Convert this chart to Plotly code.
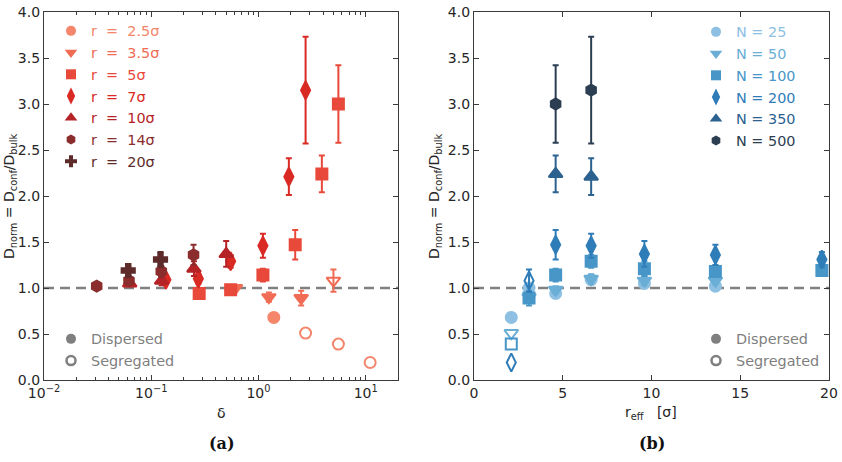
import plotly.graph_objects as go

# ---------------- data ----------------
N_values = [25, 50, 100, 200, 350, 500]
r_labels = ["2.5", "3.5", "5", "7", "10", "14", "20"]
r_eff = [2.1, 3.1, 4.6, 6.6, 9.6, 13.6, 19.6]

# per-r rows, indexed by N (None = not simulated / no visible error bar)
delta_r2_5 = [1.39, 2.75, 5.56, 11.0, None, None]
D_r2_5 = [0.68, 0.51, 0.39, 0.19, None, None]
err_r2_5 = [None, None, None, None, None, None]
seg_r2_5 = [0, 1, 1, 1, None, None]

delta_r3_5 = [0.61, 1.25, 2.5, 5.0, None, None]
D_r3_5 = [1.0, 0.9, 0.89, 1.08, None, None]
err_r3_5 = [0.03, 0.05, 0.08, 0.12, None, None]
seg_r3_5 = [0, 0, 0, 1, None, None]

delta_r5 = [0.28, 0.55, 1.1, 2.2, 3.9, 5.56]
D_r5 = [0.94, 0.98, 1.14, 1.47, 2.24, 3.0]
err_r5 = [0.03, 0.04, 0.07, 0.16, 0.2, 0.42]
seg_r5 = [0, 0, 0, 0, 0, 0]

delta_r7 = [0.137, 0.275, 0.55, 1.1, 1.92, 2.75]
D_r7 = [1.09, 1.1, 1.29, 1.46, 2.21, 3.15]
err_r7 = [0.04, 0.05, 0.07, 0.13, 0.2, 0.58]
seg_r7 = [0, 0, 0, 0, 0, 0]

delta_r10 = [0.063, 0.125, 0.25, 0.5, None, None]
D_r10 = [1.05, 1.08, 1.21, 1.37, None, None]
err_r10 = [0.03, 0.05, 0.08, 0.14, None, None]
seg_r10 = [0, 0, 0, 0, None, None]

delta_r14 = [0.031, 0.062, 0.124, 0.248, None, None]
D_r14 = [1.02, 1.08, 1.18, 1.36, None, None]
err_r14 = [0.02, 0.04, 0.06, 0.11, None, None]
seg_r14 = [0, 0, 0, 0, None, None]

delta_r20 = [None, None, 0.061, 0.122, None, None]
D_r20 = [None, None, 1.19, 1.31, None, None]
err_r20 = [None, None, 0.05, 0.08, None, None]
seg_r20 = [None, None, 0, 0, None, None]

# ---------------- styles ----------------
delta_rows = [delta_r2_5, delta_r3_5, delta_r5, delta_r7, delta_r10, delta_r14, delta_r20]
D_rows = [D_r2_5, D_r3_5, D_r5, D_r7, D_r10, D_r14, D_r20]
err_rows = [err_r2_5, err_r3_5, err_r5, err_r7, err_r10, err_r14, err_r20]
seg_rows = [seg_r2_5, seg_r3_5, seg_r5, seg_r7, seg_r10, seg_r14, seg_r20]

red_colors = ["#f4866b", "#f06c55", "#e8493a", "#d92a24", "#b52326", "#8a2d2c", "#5e2b2b"]
r_symbols = ["circle", "triangle-down", "square", "diamond-tall", "triangle-up", "hexagon", "cross"]
blue_colors = ["#8dc0e2", "#6aaed6", "#4896c8", "#2f7db8", "#2c628f", "#2c3e52"]
N_symbols = ["circle", "triangle-down", "square", "diamond-tall", "triangle-up", "hexagon"]
sym_size = {"circle": 11, "triangle-down": 12, "square": 11, "diamond-tall": 13,
            "triangle-up": 12, "hexagon": 11, "cross": 11}

FONT = "DejaVu Sans"
TXT = "#262626"
AX = "#3a3a3a"

W, H = 842, 462
ML, MR, MT, MB = 44, 13, 12, 82
PW, PH = W - ML - MR, H - MT - MB


def px(x):
    return (x - ML) / PW


def py(y):
    return 1 - (y - MT) / PH


fig = go.Figure()


def add_series(xs, ys, es, syms, c, size, xa, ya):
    # points with an error bar
    idx_e = [k for k in range(len(xs)) if es[k] is not None]
    idx_n = [k for k in range(len(xs)) if es[k] is None]
    if idx_e:
        fig.add_trace(go.Scatter(
            x=[xs[k] for k in idx_e], y=[ys[k] for k in idx_e], mode="markers",
            xaxis=xa, yaxis=ya, showlegend=False,
            marker=dict(symbol=[syms[k] for k in idx_e], size=size, color=c, line=dict(color=c, width=2)),
            error_y=dict(type="data", array=[es[k] for k in idx_e], color=c, thickness=2, width=3),
        ))
    if idx_n:
        fig.add_trace(go.Scatter(
            x=[xs[k] for k in idx_n], y=[ys[k] for k in idx_n], mode="markers",
            xaxis=xa, yaxis=ya, showlegend=False,
            marker=dict(symbol=[syms[k] for k in idx_n], size=size, color=c, line=dict(color=c, width=2)),
        ))


# panel (a): D vs delta, one series per r
for i, lab in enumerate(r_labels):
    xs, ys, es, syms = [], [], [], []
    for j in range(len(N_values)):
        if D_rows[i][j] is None:
            continue
        xs.append(delta_rows[i][j])
        ys.append(D_rows[i][j])
        es.append(err_rows[i][j])
        syms.append(r_symbols[i] + ("-open" if seg_rows[i][j] else ""))
    c = red_colors[i]
    add_series(xs, ys, es, syms, c, sym_size[r_symbols[i]], "x", "y")
    fig.add_trace(go.Scatter(
        x=[None], y=[None], mode="markers", xaxis="x", yaxis="y", legend="legend",
        name=f"<span style='color:{c}'>r  =  {lab}σ</span>",
        marker=dict(symbol=r_symbols[i], size=sym_size[r_symbols[i]] - 1, color=c),
    ))

# panel (b): D vs r_eff, one series per N
for j, n in enumerate(N_values):
    xs, ys, es, syms = [], [], [], []
    for i in range(len(r_labels)):
        if D_rows[i][j] is None:
            continue
        xs.append(r_eff[i])
        ys.append(D_rows[i][j])
        es.append(err_rows[i][j])
        syms.append(N_symbols[j] + ("-open" if seg_rows[i][j] else ""))
    c = blue_colors[j]
    add_series(xs, ys, es, syms, c, sym_size[N_symbols[j]], "x2", "y2")
    fig.add_trace(go.Scatter(
        x=[None], y=[None], mode="markers", xaxis="x2", yaxis="y2", legend="legend2",
        name=f"<span style='color:{c}'>N = {n}</span>",
        marker=dict(symbol=N_symbols[j], size=sym_size[N_symbols[j]] - 1, color=c),
    ))

# dispersed / segregated keys
for ax, lg in (("", "legend3"), ("2", "legend4")):
    fig.add_trace(go.Scatter(
        x=[None], y=[None], mode="markers", xaxis="x" + ax, yaxis="y" + ax, legend=lg,
        name="Dispersed", marker=dict(symbol="circle", size=10, color="#7f7f7f"),
    ))
    fig.add_trace(go.Scatter(
        x=[None], y=[None], mode="markers", xaxis="x" + ax, yaxis="y" + ax, legend=lg,
        name="Segregated",
        marker=dict(symbol="circle-open", size=9, color="#7f7f7f", line=dict(color="#7f7f7f", width=2.5)),
    ))

axis_common = dict(
    showline=True, linecolor=AX, linewidth=1.3, mirror="ticks",
    ticks="inside", ticklen=5, tickwidth=1.2, tickcolor=AX,
    showgrid=False, zeroline=False, automargin=False,
    tickfont=dict(family=FONT, size=14, color=TXT),
)

minor_vals = [m * 10 ** e for e in range(-2, 2) for m in range(2, 10) if m * 10 ** e <= 20]

legend_common = dict(xanchor="left", yanchor="top", bgcolor="rgba(0,0,0,0)",
                     itemsizing="trace", tracegroupgap=0, borderwidth=0)

fig.update_layout(
    width=W, height=H, margin=dict(l=ML, r=MR, t=MT, b=MB, autoexpand=False),
    paper_bgcolor="white", plot_bgcolor="white",
    font=dict(family=FONT, size=14, color=TXT),
    xaxis=dict(
        axis_common, type="log", domain=[0, px(398)], range=[-2, 1.301],
        tickvals=[0.01, 0.1, 1, 10],
        ticktext=["10<sup>−2</sup>", "10<sup>−1</sup>", "10<sup>0</sup>", "10<sup>1</sup>"],
        minor=dict(tickmode="array", tickvals=minor_vals, ticks="inside", ticklen=3,
                   tickcolor=AX, tickwidth=1, showgrid=False),
        anchor="y",
    ),
    yaxis=dict(axis_common, domain=[0, 1], range=[0, 4], dtick=0.5, tickformat=".1f", anchor="x"),
    xaxis2=dict(axis_common, domain=[px(474), 1], range=[0, 20], dtick=5, anchor="y2"),
    yaxis2=dict(axis_common, domain=[0, 1], range=[0, 4], dtick=0.5, tickformat=".1f", anchor="x2"),
    legend=dict(legend_common, x=px(51), y=py(15), font=dict(family=FONT, size=14.4)),
    legend2=dict(legend_common, x=px(696), y=py(16), font=dict(family=FONT, size=14.4)),
    legend3=dict(legend_common, x=px(51), y=py(323), font=dict(family=FONT, size=14.4, color="#7f7f7f")),
    legend4=dict(legend_common, x=px(696), y=py(323), font=dict(family=FONT, size=14.4, color="#7f7f7f")),
    shapes=[
        dict(type="line", xref="x domain", yref="y", x0=0, x1=1, y0=1, y1=1,
             line=dict(color="#808080", width=2.5, dash="10px,6px"), layer="below"),
        dict(type="line", xref="x2 domain", yref="y2", x0=0, x1=1, y0=1, y1=1,
             line=dict(color="#808080", width=2.5, dash="10px,6px"), layer="below"),
    ],
    annotations=[
        dict(text="D<sub>norm</sub> = D<sub>conf</sub>/D<sub>bulk</sub>", textangle=-90,
             xref="paper", yref="paper", x=px(10), y=py(196), xanchor="center", yanchor="middle",
             showarrow=False, font=dict(family=FONT, size=14, color=TXT)),
        dict(text="D<sub>norm</sub> = D<sub>conf</sub>/D<sub>bulk</sub>", textangle=-90,
             xref="paper", yref="paper", x=px(435), y=py(196), xanchor="center", yanchor="middle",
             showarrow=False, font=dict(family=FONT, size=14, color=TXT)),
        dict(text="δ", xref="paper", yref="paper", x=px(221), y=py(413),
             xanchor="center", yanchor="middle", showarrow=False,
             font=dict(family=FONT, size=14, color=TXT)),
        dict(text="r<sub>eff</sub>   [σ]", xref="paper", yref="paper", x=px(651), y=py(413),
             xanchor="center", yanchor="middle", showarrow=False,
             font=dict(family=FONT, size=14, color=TXT)),
        dict(text="<b>(a)</b>", xref="paper", yref="paper", x=px(222), y=py(443),
             xanchor="center", yanchor="middle", showarrow=False,
             font=dict(family="DejaVu Serif", size=16, color="#111111")),
        dict(text="<b>(b)</b>", xref="paper", yref="paper", x=px(652), y=py(443),
             xanchor="center", yanchor="middle", showarrow=False,
             font=dict(family="DejaVu Serif", size=16, color="#111111")),
    ],
)

fig.write_html("out.html")
